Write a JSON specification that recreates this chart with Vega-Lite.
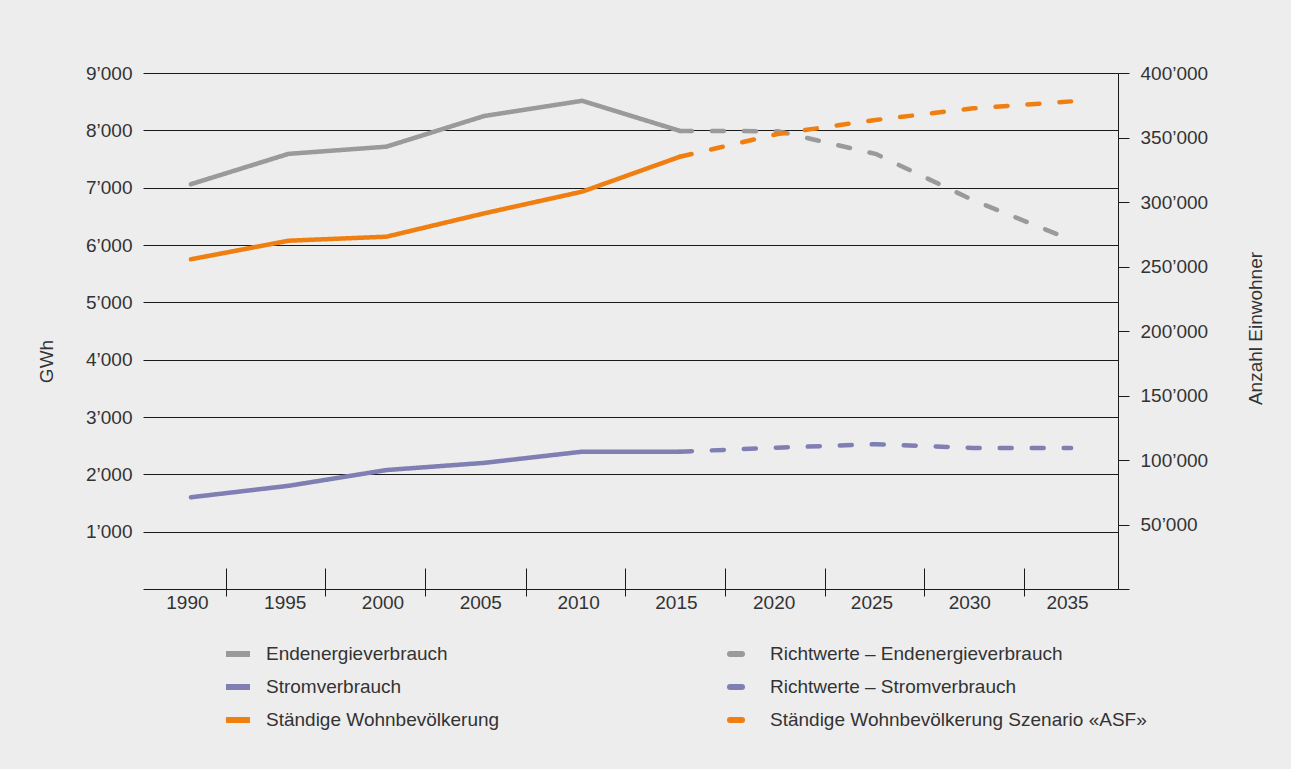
{
  "$schema": "https://vega.github.io/schema/vega-lite/v6.json",
  "width": 975,
  "height": 516,
  "autosize": {"type": "none"},
  "padding": {"left": 143, "top": 73, "right": 173, "bottom": 180},
  "background": "#ededed",
  "config": {
    "font": "Liberation Sans",
    "view": {"stroke": null},
    "axis": {
      "labelFont": "Liberation Sans",
      "titleFont": "Liberation Sans",
      "labelFontSize": 19,
      "labelColor": "#333333",
      "titleFontSize": 19,
      "titleFontWeight": "normal",
      "titleColor": "#333333",
      "labelOverlap": false,
      "labelFlush": false
    }
  },
  "data": {
    "values": [
      {"year": 1990, "series": "Endenergieverbrauch", "unit": "GWh", "value": 7060},
      {"year": 1995, "series": "Endenergieverbrauch", "unit": "GWh", "value": 7590},
      {"year": 2000, "series": "Endenergieverbrauch", "unit": "GWh", "value": 7715},
      {"year": 2005, "series": "Endenergieverbrauch", "unit": "GWh", "value": 8250},
      {"year": 2010, "series": "Endenergieverbrauch", "unit": "GWh", "value": 8515},
      {"year": 2015, "series": "Endenergieverbrauch", "unit": "GWh", "value": 7990},
      {"year": 2015, "series": "Richtwerte – Endenergieverbrauch", "unit": "GWh", "value": 7990},
      {"year": 2020, "series": "Richtwerte – Endenergieverbrauch", "unit": "GWh", "value": 7985},
      {"year": 2025, "series": "Richtwerte – Endenergieverbrauch", "unit": "GWh", "value": 7590},
      {"year": 2030, "series": "Richtwerte – Endenergieverbrauch", "unit": "GWh", "value": 6780},
      {"year": 2035, "series": "Richtwerte – Endenergieverbrauch", "unit": "GWh", "value": 6090},
      {"year": 1990, "series": "Stromverbrauch", "unit": "GWh", "value": 1600},
      {"year": 1995, "series": "Stromverbrauch", "unit": "GWh", "value": 1800},
      {"year": 2000, "series": "Stromverbrauch", "unit": "GWh", "value": 2075},
      {"year": 2005, "series": "Stromverbrauch", "unit": "GWh", "value": 2200},
      {"year": 2010, "series": "Stromverbrauch", "unit": "GWh", "value": 2395},
      {"year": 2015, "series": "Stromverbrauch", "unit": "GWh", "value": 2395},
      {"year": 2015, "series": "Richtwerte – Stromverbrauch", "unit": "GWh", "value": 2395},
      {"year": 2020, "series": "Richtwerte – Stromverbrauch", "unit": "GWh", "value": 2465},
      {"year": 2025, "series": "Richtwerte – Stromverbrauch", "unit": "GWh", "value": 2525},
      {"year": 2030, "series": "Richtwerte – Stromverbrauch", "unit": "GWh", "value": 2460},
      {"year": 2035, "series": "Richtwerte – Stromverbrauch", "unit": "GWh", "value": 2460},
      {"year": 1990, "series": "Ständige Wohnbevölkerung", "unit": "Einwohner", "value": 255600},
      {"year": 1995, "series": "Ständige Wohnbevölkerung", "unit": "Einwohner", "value": 270000},
      {"year": 2000, "series": "Ständige Wohnbevölkerung", "unit": "Einwohner", "value": 273100},
      {"year": 2005, "series": "Ständige Wohnbevölkerung", "unit": "Einwohner", "value": 291200},
      {"year": 2010, "series": "Ständige Wohnbevölkerung", "unit": "Einwohner", "value": 308000},
      {"year": 2015, "series": "Ständige Wohnbevölkerung", "unit": "Einwohner", "value": 335100},
      {"year": 2015, "series": "Ständige Wohnbevölkerung Szenario «ASF»", "unit": "Einwohner", "value": 335100},
      {"year": 2020, "series": "Ständige Wohnbevölkerung Szenario «ASF»", "unit": "Einwohner", "value": 352700},
      {"year": 2025, "series": "Ständige Wohnbevölkerung Szenario «ASF»", "unit": "Einwohner", "value": 363600},
      {"year": 2030, "series": "Ständige Wohnbevölkerung Szenario «ASF»", "unit": "Einwohner", "value": 372600},
      {"year": 2035, "series": "Ständige Wohnbevölkerung Szenario «ASF»", "unit": "Einwohner", "value": 378000}
    ]
  },
  "layer": [
    {
      "transform": [{"filter": "datum.unit === 'GWh'"}],
      "mark": {"type": "line", "strokeWidth": 4.5, "strokeCap": "round", "strokeJoin": "round"},
      "encoding": {
        "x": {
          "field": "year", "type": "quantitative",
          "scale": {"domain": [1987.55, 2037.4], "nice": false, "zero": false},
          "axis": {
            "orient": "bottom",
            "values": [1990, 1995, 2000, 2005, 2010, 2015, 2020, 2025, 2030, 2035],
            "format": "d",
            "ticks": false, "domain": false, "grid": false,
            "labelPadding": 4, "labelOffset": -4, "title": null
          }
        },
        "y": {
          "field": "value", "type": "quantitative",
          "scale": {"domain": [0, 9000], "nice": false},
          "axis": {
            "orient": "left",
            "values": [0, 1000, 2000, 3000, 4000, 5000, 6000, 7000, 8000, 9000],
            "labelExpr": "datum.value === 0 ? '' : replace(format(datum.value, ','), ',', '’')",
            "grid": true, "gridColor": "#1a1a1a", "gridWidth": 1, "gridOpacity": 1,
            "domain": false, "ticks": false, "labelPadding": 11,
            "title": "GWh", "titleAngle": 270, "titleAlign": "center", "titleBaseline": "middle",
            "titleX": -97, "titleY": 288
          }
        },
        "color": {
          "field": "series", "type": "nominal",
          "scale": {
            "domain": ["Endenergieverbrauch", "Stromverbrauch", "Ständige Wohnbevölkerung", "Richtwerte – Endenergieverbrauch", "Richtwerte – Stromverbrauch", "Ständige Wohnbevölkerung Szenario «ASF»"],
            "range": ["#9a9a9a", "#7f7fb4", "#f07f11", "#9a9a9a", "#7f7fb4", "#f07f11"]
          },
          "legend": {
            "orient": "none", "legendX": 80, "legendY": 566,
            "columns": 2, "columnPadding": 218, "rowPadding": 6,
            "symbolType": "stroke", "symbolSize": 576, "symbolStrokeWidth": 6,
            "labelFont": "Liberation Sans", "labelFontSize": 19, "labelColor": "#333333",
            "labelLimit": 600, "labelOffset": 13, "title": null, "padding": 0,
            "encode": {
              "symbols": {
                "update": {
                  "strokeDash": {"signal": "(indexof(datum.value, 'Richtwerte') >= 0 || indexof(datum.value, 'ASF') >= 0) ? [4.5, 13.7] : [1, 0]"},
                  "strokeCap": {"signal": "(indexof(datum.value, 'Richtwerte') >= 0 || indexof(datum.value, 'ASF') >= 0) ? 'round' : 'butt'"}
                }
              }
            }
          }
        },
        "strokeDash": {
          "field": "series", "type": "nominal",
          "scale": {
            "domain": ["Endenergieverbrauch", "Stromverbrauch", "Ständige Wohnbevölkerung", "Richtwerte – Endenergieverbrauch", "Richtwerte – Stromverbrauch", "Ständige Wohnbevölkerung Szenario «ASF»"],
            "range": [[1, 0], [1, 0], [1, 0], [12, 20], [12, 20], [12, 20]]
          },
          "legend": null
        }
      }
    },
    {
      "transform": [{"filter": "datum.unit === 'Einwohner'"}],
      "mark": {"type": "line", "strokeWidth": 4.5, "strokeCap": "round", "strokeJoin": "round"},
      "encoding": {
        "x": {
          "field": "year", "type": "quantitative",
          "scale": {"domain": [1987.55, 2037.4], "nice": false, "zero": false},
          "axis": {
            "orient": "bottom",
            "values": [1991.77, 1996.88, 2001.99, 2007.11, 2012.2, 2017.3, 2022.4, 2027.5, 2032.6],
            "labels": false, "domain": false, "grid": false,
            "ticks": true, "tickSize": 28, "tickColor": "#1a1a1a", "tickWidth": 1,
            "offset": -21, "title": null
          }
        },
        "y": {
          "field": "value", "type": "quantitative",
          "scale": {"domain": [0, 400000], "nice": false},
          "axis": {
            "orient": "right",
            "values": [0, 50000, 100000, 150000, 200000, 250000, 300000, 350000, 400000],
            "labelExpr": "datum.value === 0 ? '' : replace(format(datum.value, ','), ',', '’')",
            "grid": false,
            "domain": true, "domainColor": "#1a1a1a", "domainWidth": 1,
            "ticks": true, "tickSize": 11, "tickColor": "#1a1a1a", "tickWidth": 1,
            "labelPadding": 11,
            "title": "Anzahl Einwohner", "titleAngle": 270, "titleAlign": "center", "titleBaseline": "middle",
            "titleX": 137, "titleY": 255
          }
        },
        "color": {"field": "series", "type": "nominal"},
        "strokeDash": {"field": "series", "type": "nominal", "legend": null}
      }
    }
  ],
  "resolve": {"scale": {"y": "independent"}, "axis": {"x": "independent", "y": "independent"}}
}
